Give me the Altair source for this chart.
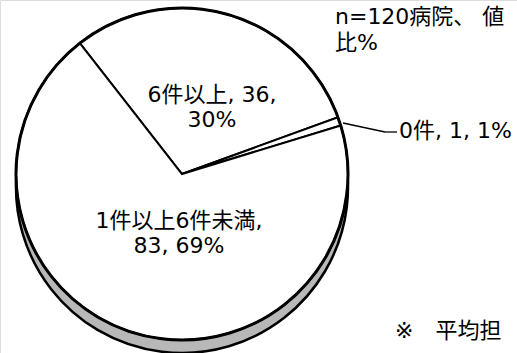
import math

import altair as alt
import pandas as pd

# Slice data: number of hospitals per category and their share
categories = ["6件以上", "0件", "1件以上6件未満"]
counts = [36, 1, 83]
percents = [30, 1, 69]

note_top = ["n=120病院、 値", "比%"]
note_bottom = "※　平均担"

df = pd.DataFrame(
    {
        "category": categories,
        "count": counts,
        "percent": percents,
        "rank": list(range(len(categories))),
    }
)

CX, CY, R = 182, 174, 166
DEPTH = 13
start = math.radians(-38)
theta_scale = alt.Scale(range=[start, start + 2 * math.pi])

# side wall of the disc, showing below the top face
rim = (
    alt.Chart(df)
    .mark_arc(radius=R, fill="#b8b8b8", stroke="black", strokeWidth=2.5)
    .encode(
        theta=alt.Theta("sum(count):Q", scale=theta_scale),
        x=alt.value(CX),
        y=alt.value(CY + DEPTH),
    )
)

slices = (
    alt.Chart(df)
    .mark_arc(radius=R, fill="white", stroke="black", strokeWidth=2)
    .encode(
        theta=alt.Theta("count:Q", stack=True, scale=theta_scale),
        order=alt.Order("rank:Q"),
        x=alt.value(CX),
        y=alt.value(CY),
    )
)

outline = (
    alt.Chart(df)
    .mark_arc(radius=R, fill=None, stroke="black", strokeWidth=3)
    .encode(
        theta=alt.Theta("sum(count):Q", scale=theta_scale),
        x=alt.value(CX),
        y=alt.value(CY),
    )
)

FONT = "DejaVu Sans, Noto Sans CJK JP"


def label(text, x, y, align="center", size=22):
    return (
        alt.Chart(pd.DataFrame({"t": [text]}))
        .mark_text(font=FONT, fontSize=size, color="black", align=align, baseline="middle")
        .encode(text="t:N", x=alt.value(x), y=alt.value(y))
    )


labels = [
    label(f"{categories[0]}, {counts[0]},", 212, 95),
    label(f"{percents[0]}%", 212, 120),
    label(f"{categories[2]},", 179, 221),
    label(f"{counts[2]}, {percents[2]}%", 179, 246),
    label(f"{categories[1]}, {counts[1]}, {percents[1]}%", 399, 131, align="left"),
    label(note_top[0], 335, 17, align="left"),
    label(note_top[1], 335, 43, align="left"),
    label(note_bottom, 395, 331, align="left"),
]

leader = pd.DataFrame({"x": [343, 385], "y": [123, 132], "x2": [385, 397], "y2": [132, 132]})
leader_lines = (
    alt.Chart(leader)
    .mark_rule(color="black", strokeWidth=1.3)
    .encode(
        x=alt.X("x:Q", scale=None),
        y=alt.Y("y:Q", scale=None),
        x2="x2:Q",
        y2="y2:Q",
    )
)

chart = (
    alt.layer(rim, slices, outline, leader_lines, *labels)
    .properties(width=517, height=353, padding=0, autosize=alt.AutoSizeParams(type="none"))
    .configure_view(stroke=None)
    .configure(background="white")
)

chart.save("out.html", embed_options={"renderer": "svg", "actions": False})
